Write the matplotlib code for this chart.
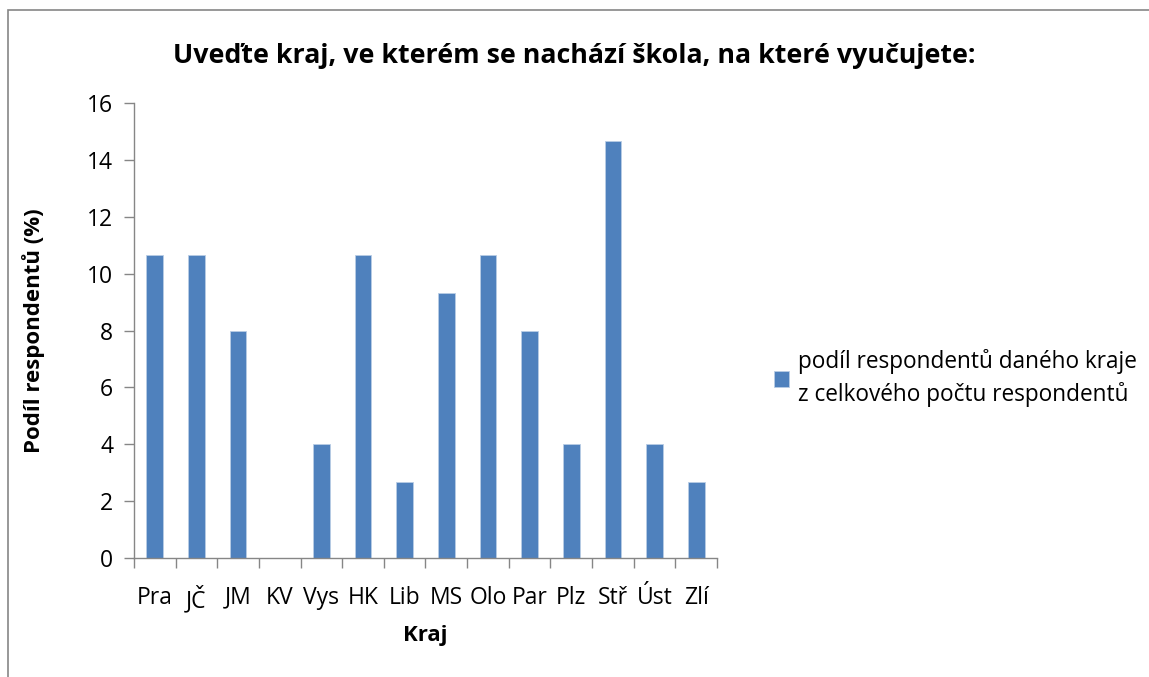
import matplotlib
matplotlib.use('Agg')
import matplotlib.pyplot as plt
from matplotlib.patches import Rectangle

kraje = ["Pra", "JČ", "JM", "KV", "Vys", "HK", "Lib", "MS", "Olo", "Par", "Plz", "Stř", "Úst", "Zlí"]
podil = [10.67, 10.67, 8.0, 0.0, 4.0, 10.67, 2.67, 9.33, 10.67, 8.0, 4.0, 14.67, 4.0, 2.67]

plt.rcParams['font.family'] = ['Open Sans', 'DejaVu Sans']
BLUE = '#4F81BD'
GREY = '#868686'

fig = plt.figure(figsize=(11.49, 6.77), dpi=100)
fig.patch.set_facecolor('white')
# chart border
fig.patches.append(Rectangle((8/1149, -0.01), 1.02, 1 - 10/677 + 0.01, transform=fig.transFigure,
                             fill=False, edgecolor=GREY, linewidth=1.2))

ax = fig.add_axes([134/1149, 1 - 558/677, (717 - 134)/1149, (558 - 103)/677])
x = list(range(len(kraje)))
ax.bar(x, podil, width=0.4, color=BLUE, edgecolor='#B9CDE5', linewidth=0.6,
       label="podíl respondentů daného kraje\nz celkového počtu respondentů")
ax.set_xlim(-0.5, len(kraje) - 0.5)
ax.set_ylim(0, 16)
ax.set_yticks(range(0, 17, 2))
ax.set_xticks(x)
ax.set_xticklabels(kraje)
ax.set_xticks([i - 0.5 for i in range(len(kraje) + 1)], minor=True)
ax.tick_params(axis='x', which='major', length=0, labelsize=16.5, pad=20)
ax.tick_params(axis='x', which='minor', length=7, color=GREY, width=1)
ax.tick_params(axis='y', length=7, color=GREY, width=1, labelsize=16.5, pad=8)
for s in ['top', 'right']:
    ax.spines[s].set_visible(False)
for s in ['left', 'bottom']:
    ax.spines[s].set_color(GREY)
    ax.spines[s].set_linewidth(1)

ax.set_xlabel("Kraj", fontsize=16, fontweight='bold', labelpad=8)
ax.set_ylabel("Podíl respondentů (%)", fontsize=16, fontweight='bold', labelpad=30)
fig.text(0.5, 1 - 56/677, "Uveďte kraj, ve kterém se nachází škola, na které vyučujete:",
         ha='center', va='center', fontsize=19.3, fontweight='bold')

leg = ax.legend(loc='center left', bbox_to_anchor=(754/1149, 1 - 378/677), bbox_transform=fig.transFigure,
                frameon=False, fontsize=16.3, handlelength=0.65, handleheight=0.65, handletextpad=0.4)
for t in leg.get_texts():
    t.set_linespacing(1.45)

fig.savefig("out.png", dpi=100)
